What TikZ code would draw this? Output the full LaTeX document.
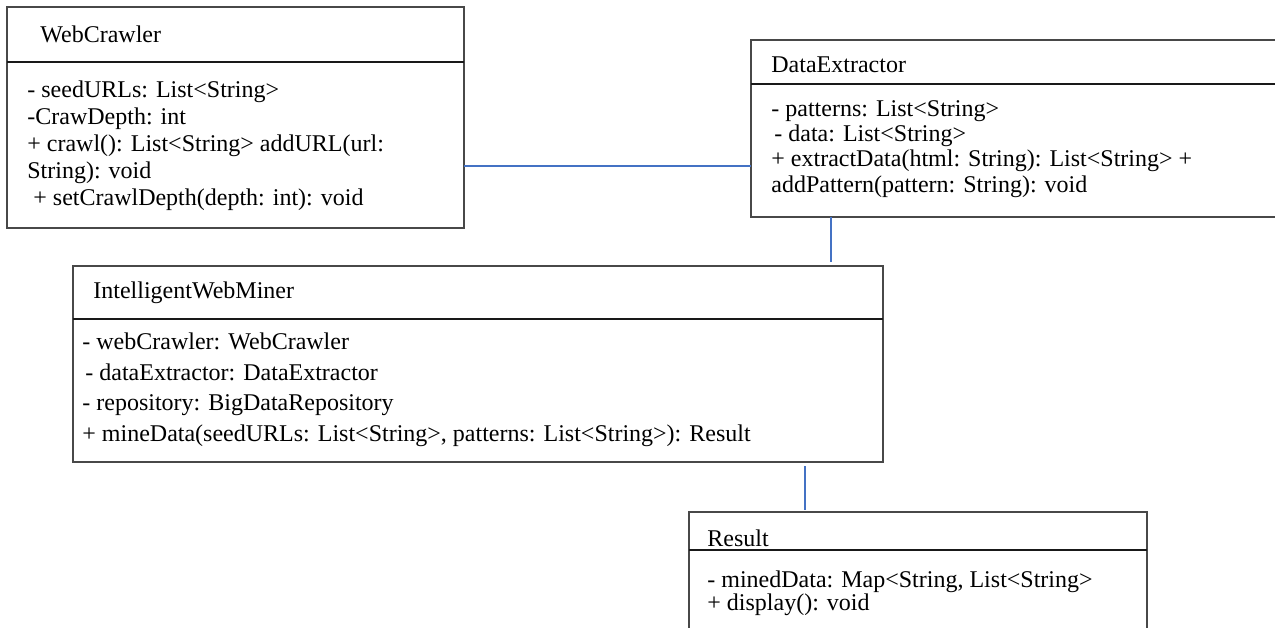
\documentclass[tikz,border=0pt]{standalone}
\usepackage{fontspec}
\setmainfont{Liberation Serif}
\definecolor{boxgray}{RGB}{72,72,72}
\definecolor{sepblack}{RGB}{25,25,25}
\definecolor{connblue}{RGB}{68,114,196}
\begin{document}
\begin{tikzpicture}[x=0.5pt,y=-0.5pt,
  classbox/.style={draw=boxgray, line width=1pt, rectangle, inner sep=0pt, outer sep=0pt, anchor=north west},
  sepline/.style={draw=sepblack, line width=1pt},
  txt/.style={anchor=base west, inner sep=0pt, font=\fontsize{12}{14}\selectfont},
  conn/.style={draw=connblue, line width=1pt}]
\useasboundingbox (0,0) rectangle (1275,627);
\fill[white] (0,0) rectangle (1275,627);
\clip (0,0) rectangle (1275,627);

% class boxes
\node[classbox, minimum width=228.5pt, minimum height=110.5pt] (wc) at (7,7) {};
\node[classbox, minimum width=274.5pt, minimum height=88.5pt] (de) at (751,40) {};
\node[classbox, minimum width=405pt, minimum height=98pt] (iwm) at (73,266) {};
\node[classbox, minimum width=229pt, minimum height=74pt] (res) at (689,512) {};

% separators
\draw[sepline] (wc.west |- 0,62) -- (wc.east |- 0,62);
\draw[sepline] (de.west |- 0,84) -- (de.east |- 0,84);
\draw[sepline] (iwm.west |- 0,319) -- (iwm.east |- 0,319);
\draw[sepline] (res.west |- 0,550) -- (res.east |- 0,550);

% WebCrawler
\node[txt] (wct) at (40,42) {WebCrawler};
\node[txt] (wc1) at (27,97) {- seedURLs: List<String>};
\node[txt] (wc2) at (27,124) {-CrawDepth: int};
\node[txt] (wc3) at (27,151) {+ crawl(): List<String> addURL(url:};
\node[txt] (wc4) at (27,178) {String): void};
\node[txt] (wc5) at (33,205) {+ setCrawlDepth(depth: int): void};

% DataExtractor
\node[txt] (det) at (771,72) {DataExtractor};
\node[txt] (de1) at (771,116) {- patterns: List<String>};
\node[txt] (de2) at (774,141) {- data: List<String>};
\node[txt] (de3) at (771,166) {+ extractData(html: String): List<String> +};
\node[txt] (de4) at (771,192) {addPattern(pattern: String): void};

% IntelligentWebMiner
\node[txt] (iwmt) at (93,298) {IntelligentWebMiner};
\node[txt] (iwm1) at (82,349) {- webCrawler: WebCrawler};
\node[txt] (iwm2) at (85,380) {- dataExtractor: DataExtractor};
\node[txt] (iwm3) at (82,410) {- repository: BigDataRepository};
\node[txt] (iwm4) at (82,441) {+ mineData(seedURLs: List<String>, patterns: List<String>): Result};

% Result
\node[txt] (rest) at (707,546) {Result};
\node[txt] (res1) at (707,587) {- minedData: Map<String, List<String>};
\node[txt] (res2) at (707,610) {+ display(): void};

% connectors
\draw[conn] (wc.east |- 0,166) -- (de.west |- 0,166);
\draw[conn, shorten >=2pt] (de.south -| 831,0) -- (iwm.north -| 831,0);
\draw[conn, shorten <=2pt, shorten >=1pt] (iwm.south -| 805,0) -- (res.north -| 805,0);
\end{tikzpicture}
\end{document}
